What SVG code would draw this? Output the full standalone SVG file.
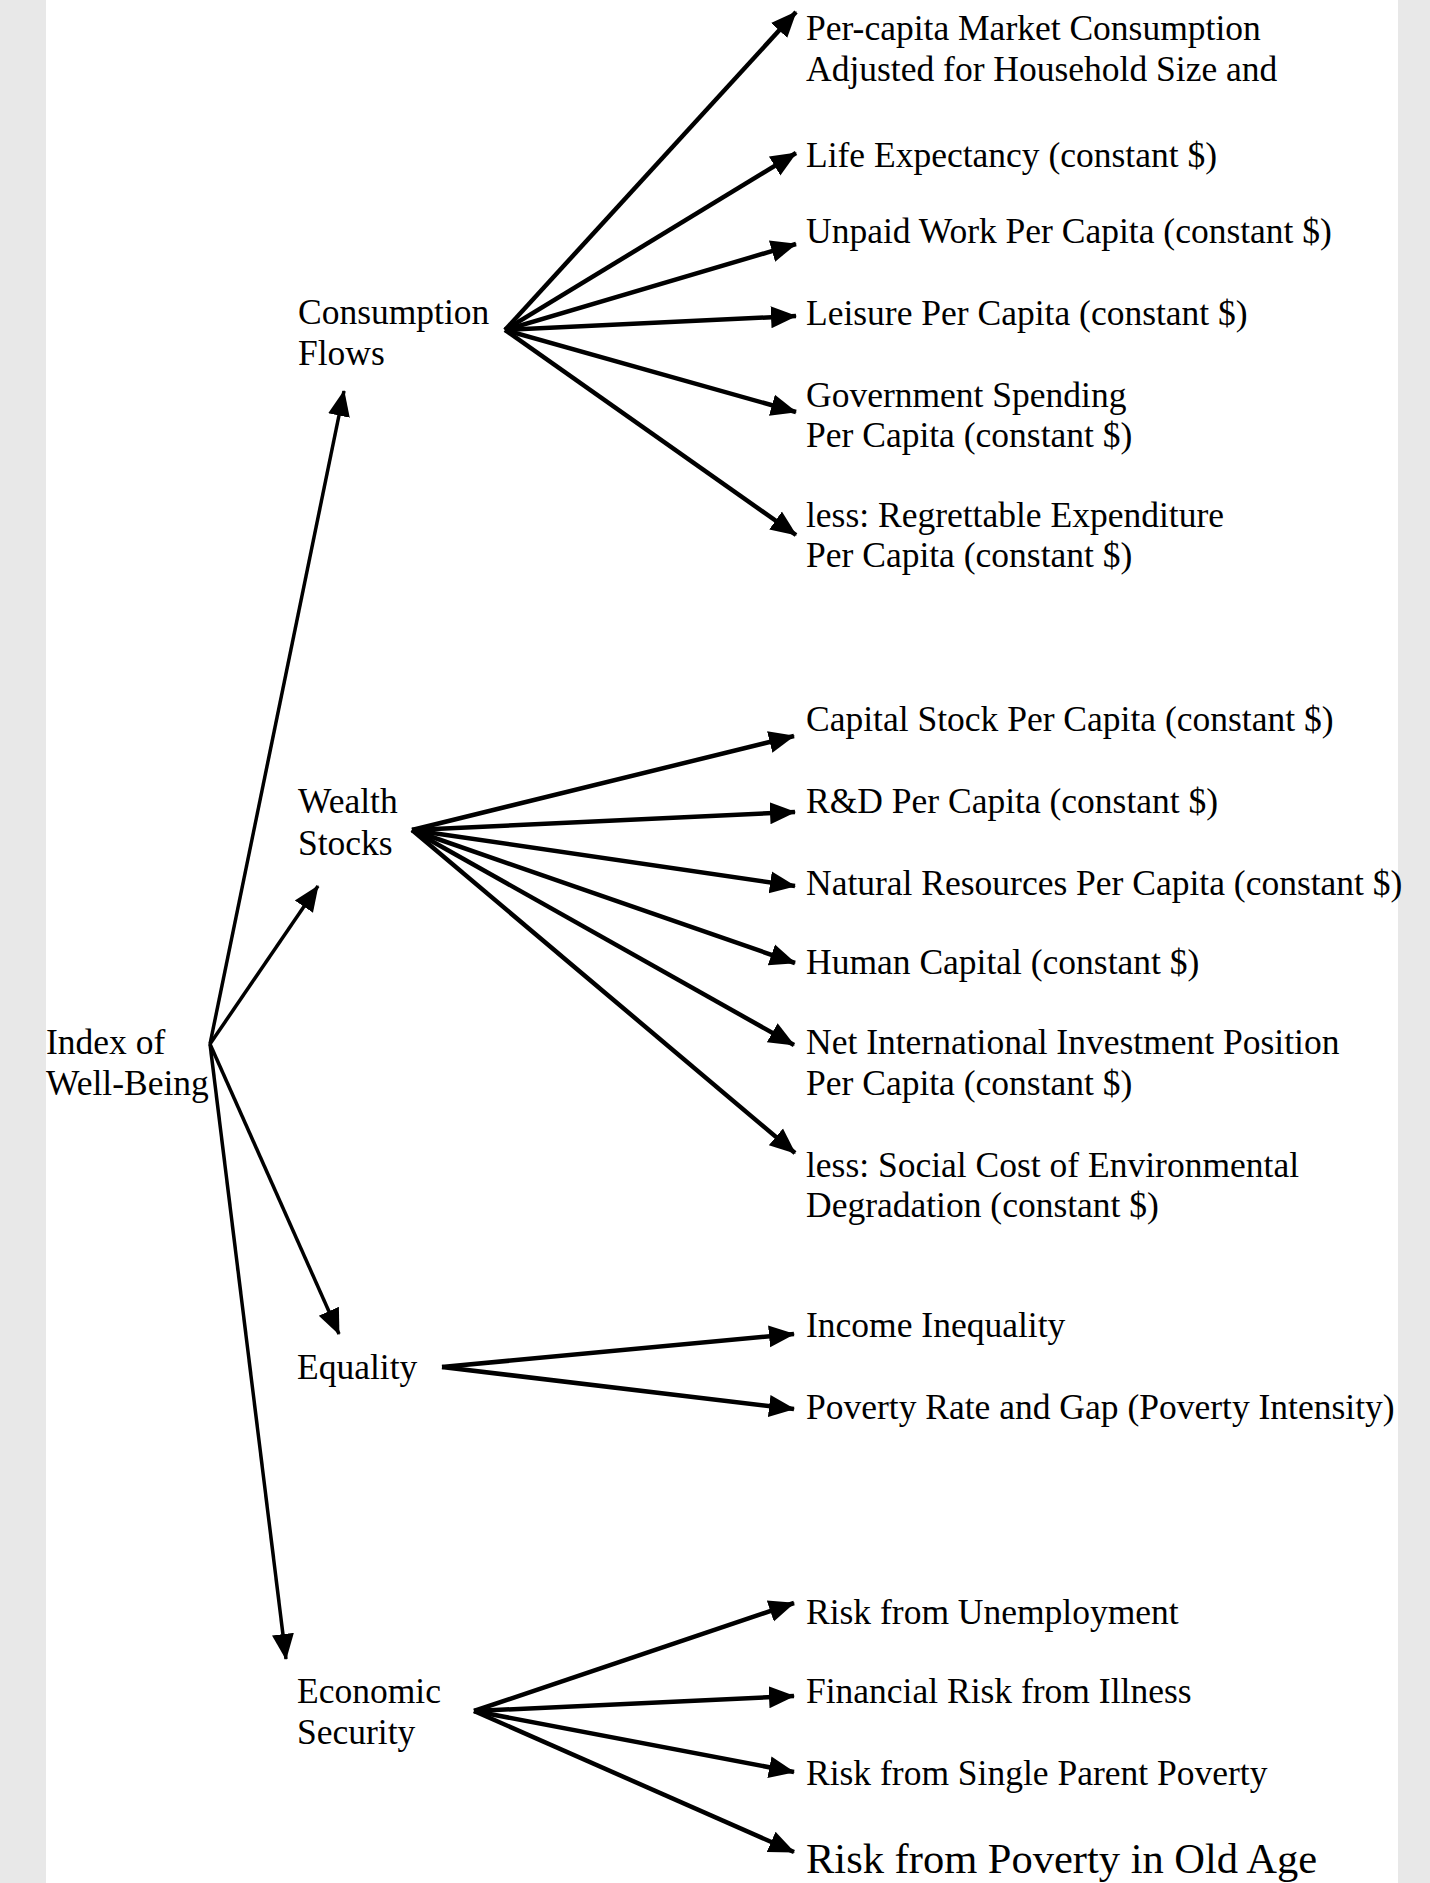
<svg xmlns="http://www.w3.org/2000/svg" width="1430" height="1883" viewBox="0 0 1430 1883">
<style>
text{font-family:"Liberation Serif","Times New Roman",serif;font-size:35.5px;fill:#000}
.big{font-size:42.5px}
.c line{stroke:#000;stroke-width:4.5;marker-end:url(#ah)}
.c .m{stroke-width:3.5}
</style>
<defs>
<marker id="ah" markerUnits="userSpaceOnUse" markerWidth="28" markerHeight="26" viewBox="0 -13 28 26" refX="25" refY="0" orient="auto">
<path d="M0,-11 L26,0 L0,11 Z" fill="#000"/>
</marker>
</defs>
<rect x="0" y="0" width="1430" height="1883" fill="#e8e8e8"/>
<rect x="46" y="0" width="1352" height="1883" fill="#fff"/>
<g class="c" id="connectors">
<line class="m" x1="210" y1="1044" x2="344" y2="391"/>
<line class="m" x1="210" y1="1044" x2="318" y2="886"/>
<line class="m" x1="210" y1="1044" x2="339" y2="1334"/>
<line class="m" x1="210" y1="1044" x2="286" y2="1659"/>
<line x1="505" y1="330" x2="796" y2="12"/>
<line x1="505" y1="330" x2="796" y2="153"/>
<line x1="505" y1="330" x2="796" y2="244"/>
<line x1="505" y1="330" x2="796" y2="316"/>
<line x1="505" y1="330" x2="796" y2="412"/>
<line x1="505" y1="330" x2="796" y2="535"/>
<line x1="412" y1="830" x2="794" y2="736"/>
<line x1="412" y1="830" x2="795" y2="812"/>
<line x1="412" y1="830" x2="795" y2="886"/>
<line x1="412" y1="830" x2="795" y2="963"/>
<line x1="412" y1="830" x2="794" y2="1045"/>
<line x1="412" y1="830" x2="795" y2="1153"/>
<line x1="442" y1="1367" x2="794" y2="1334"/>
<line x1="442" y1="1367" x2="794" y2="1409"/>
<line x1="474" y1="1711" x2="794" y2="1603"/>
<line x1="474" y1="1711" x2="794" y2="1696"/>
<line x1="474" y1="1711" x2="794" y2="1772"/>
<line x1="474" y1="1711" x2="794" y2="1852"/>
</g>
<g id="index"><text x="46" y="1054">Index of</text><text x="46" y="1095">Well-Being</text></g>
<g id="consumption"><text x="298" y="324">Consumption</text><text x="298" y="365">Flows</text></g>
<g id="wealth"><text x="298" y="813">Wealth</text><text x="298" y="855">Stocks</text></g>
<g id="equality"><text x="297" y="1379">Equality</text></g>
<g id="security"><text x="297" y="1703">Economic</text><text x="297" y="1744">Security</text></g>
<g id="c1"><text x="806" y="40">Per-capita Market Consumption</text><text x="806" y="81">Adjusted for Household Size and</text></g>
<g id="c2"><text x="806" y="167">Life Expectancy (constant $)</text></g>
<g id="c3"><text x="806" y="243">Unpaid Work Per Capita (constant $)</text></g>
<g id="c4"><text x="806" y="325">Leisure Per Capita (constant $)</text></g>
<g id="c5"><text x="806" y="407">Government Spending</text><text x="806" y="447">Per Capita (constant $)</text></g>
<g id="c6"><text x="806" y="527">less: Regrettable Expenditure</text><text x="806" y="567">Per Capita (constant $)</text></g>
<g id="w1"><text x="806" y="731">Capital Stock Per Capita (constant $)</text></g>
<g id="w2"><text x="806" y="813">R&amp;D Per Capita (constant $)</text></g>
<g id="w3"><text x="806" y="895">Natural Resources Per Capita (constant $)</text></g>
<g id="w4"><text x="806" y="974">Human Capital (constant $)</text></g>
<g id="w5"><text x="806" y="1054">Net International Investment Position</text><text x="806" y="1095">Per Capita (constant $)</text></g>
<g id="w6"><text x="806" y="1177">less: Social Cost of Environmental</text><text x="806" y="1217">Degradation (constant $)</text></g>
<g id="e1"><text x="806" y="1337">Income Inequality</text></g>
<g id="e2"><text x="806" y="1419">Poverty Rate and Gap (Poverty Intensity)</text></g>
<g id="s1"><text x="806" y="1624">Risk from Unemployment</text></g>
<g id="s2"><text x="806" y="1703">Financial Risk from Illness</text></g>
<g id="s3"><text x="806" y="1785">Risk from Single Parent Poverty</text></g>
<g id="s4"><text class="big" x="806" y="1873">Risk from Poverty in Old Age</text></g>
</svg>
